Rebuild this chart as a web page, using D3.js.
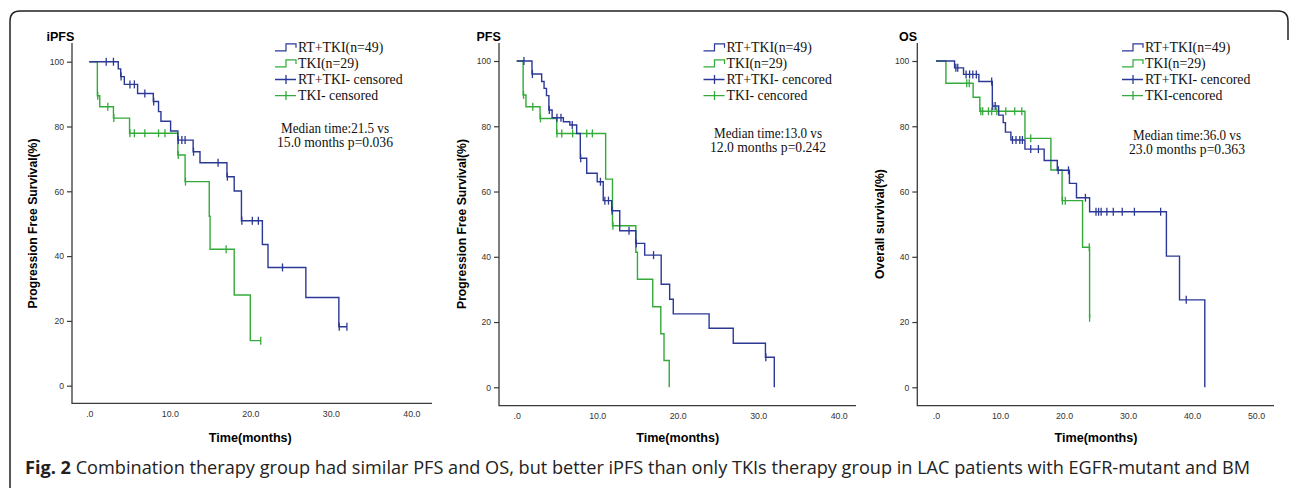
<!DOCTYPE html>
<html lang="en">

<head>
    <meta charset="UTF-8">
    <title>Fig. 2 Kaplan-Meier curves</title>
    <script src="https://d3js.org/d3.v7.min.js"></script>
    <style>
        body { margin: 0; background: #fff; }
    </style>
</head>

<body>
    <div class="chart"></div>

    <script>
        // ---- data (time in months, survival in %) ----
        const yTicks = [0, 20, 40, 60, 80, 100];
        const xTicks40 = [0, 10, 20, 30, 40];
        const xTicks50 = [0, 10, 20, 30, 40, 50];

        // iPFS
        const ipfsRtTimes = [3.6, 3.9, 4.35, 6.0, 7.95, 8.6, 8.9, 10.1, 11.0, 12.9, 13.75, 17.1, 18.0, 18.9, 21.5, 22.2, 26.9, 31.0];
        const ipfsRtSurv = [97.8, 95.4, 93.0, 90.2, 87.7, 84.6, 81.6, 78.6, 75.8, 72.2, 68.8, 64.5, 60.1, 50.9, 43.6, 36.5, 27.2, 18.2];
        const ipfsRtCens = [2.1, 3.0, 3.95, 5.05, 5.6, 6.9, 8.0, 11.05, 11.5, 11.9, 12.95, 16.0, 17.15, 18.95, 20.25, 21.0, 24.0, 31.05, 32.0];
        const ipfsTkiTimes = [1.0, 1.3, 3.0, 5.0, 11.0, 11.9, 14.9, 15.0, 18.0, 20.0];
        const ipfsTkiSurv = [89.5, 86.1, 82.6, 77.9, 71.2, 63.0, 52.3, 42.1, 28.0, 13.9];
        const ipfsTkiCens = [1.05, 2.3, 3.05, 5.05, 5.6, 6.9, 8.6, 9.4, 11.05, 11.95, 17.0, 21.3];

        // PFS
        const pfsRtTimes = [1.9, 3.1, 3.4, 3.7, 4.0, 4.4, 5.8, 6.6, 7.45, 7.9, 8.7, 10.0, 10.75, 11.8, 12.8, 14.8, 15.9, 17.95, 19.0, 19.45, 23.9, 26.9, 30.9, 32.0];
        const pfsRtSurv = [96.0, 93.7, 91.6, 89.4, 85.0, 82.6, 81.4, 80.4, 77.8, 70.2, 65.6, 63.0, 57.2, 54.1, 48.0, 44.1, 40.5, 31.6, 27.0, 22.5, 18.1, 13.5, 9.2, 0];
        const pfsRtCens = [0.9, 1.95, 4.05, 5.0, 5.5, 6.9, 7.95, 10.4, 10.95, 11.4, 11.85, 13.95, 14.85, 17.0, 30.95];
        const pfsTkiTimes = [0.8, 1.15, 2.9, 4.97, 11.05, 11.9, 14.8, 15.0, 16.9, 17.9, 18.3, 18.95];
        const pfsTkiSurv = [89.6, 86.0, 82.4, 77.8, 63.8, 49.5, 41.4, 33.1, 24.7, 16.4, 8.2, 0];
        const pfsTkiCens = [0.85, 2.0, 2.95, 5.0, 5.6, 6.95, 8.7, 9.4, 11.95];

        // OS
        const osRtTimes = [2.9, 4.3, 6.7, 8.8, 9.8, 10.5, 10.85, 11.7, 13.9, 16.9, 18.95, 20.85, 21.95, 24.0, 36.0, 38.05, 42.0];
        const osRtSurv = [97.9, 95.9, 93.7, 86.2, 83.4, 81.1, 78.2, 75.8, 73.0, 69.5, 66.5, 62.5, 58.1, 53.8, 40.2, 26.8, 0];
        const osRtCens = [3.1, 3.4, 4.7, 5.25, 5.75, 6.3, 8.7, 8.85, 9.25, 11.95, 12.5, 13.1, 13.5, 14.8, 16.0, 19.1, 20.7, 23.35, 25.0, 25.4, 25.8, 26.7, 27.7, 29.1, 31.0, 35.1, 39.1];
        const osTkiTimes = [1.55, 5.8, 6.85, 13.9, 17.95, 19.7, 22.9, 24.0];
        const osTkiSurv = [93.2, 88.9, 84.6, 76.3, 66.6, 57.2, 42.9, 21.3];
        const osTkiCens = [4.8, 5.2, 7.0, 7.3, 8.2, 8.7, 9.5, 10.9, 12.3, 13.4, 14.8, 19.75, 20.2, 23.95, 24.0];

        const legendP1 = ["RT+TKI(n=49)", "TKI(n=29)", "RT+TKI- censored", "TKI- censored"];
        const legendP2 = ["RT+TKI(n=49)", "TKI(n=29)", "RT+TKI- cencored", "TKI- cencored"];
        const legendP3 = ["RT+TKI(n=49)", "TKI(n=29)", "RT+TKI- cencored", "TKI-cencored"];

        const medianP1 = ["Median time:21.5 vs", "15.0 months p=0.036"];
        const medianP2 = ["Median time:13.0 vs", "12.0 months p=0.242"];
        const medianP3 = ["Median time:36.0 vs", "23.0 months p=0.363"];

        const captionBold = "Fig. 2";
        const captionText = " Combination therapy group had similar PFS and OS, but better iPFS than only TKIs therapy group in LAC patients with EGFR-mutant and BM";

        // ---- styling ----
        const blue = "#2b3896";
        const green = "#34aa3a";
        const axisColor = "#3a3a3a";

        const w = 1290;
        const h = 488;

        const svg = d3.select(".chart")
            .append("svg")
            .attr("width", w)
            .attr("height", h)
            .style("display", "block");

        // outer frame (rounded top corners, open at the bottom)
        svg.append("path")
            .attr("d", "M10,492 V21 Q10,11 20,11 H1278 Q1288,11 1288,21 V40")
            .attr("fill", "none")
            .attr("stroke", "#222")
            .attr("stroke-width", 1.5);

        // panel layout (pixel positions)
        const panels = [
            {
                title: "iPFS", yLabel: "Progression Free Survival(%)", xTicks: xTicks40,
                axisX: 72, right: 432, axisY: 403.3, top: 43, x0: 89.3, x1: 411.3, y0: 385.7, y100: 61.7,
                titleX: 46.5, legendX: 275, legendY: 47.3, legend: legendP1,
                median: medianP1, medianX: 335, medianY: 133, yLabelX: 37, yLabelY: 223.5,
                groups: [
                    { times: ipfsRtTimes, surv: ipfsRtSurv, cens: ipfsRtCens, color: blue },
                    { times: ipfsTkiTimes, surv: ipfsTkiSurv, cens: ipfsTkiCens, color: green }
                ]
            },
            {
                title: "PFS", yLabel: "Progression Free Survival(%)", xTicks: xTicks40,
                axisX: 499, right: 856, axisY: 405.7, top: 43, x0: 516.7, x1: 838.7, y0: 387.3, y100: 61,
                titleX: 476.5, legendX: 703.5, legendY: 47.3, legend: legendP2,
                median: medianP2, medianX: 768, medianY: 138, yLabelX: 466, yLabelY: 224,
                groups: [
                    { times: pfsRtTimes, surv: pfsRtSurv, cens: pfsRtCens, color: blue },
                    { times: pfsTkiTimes, surv: pfsTkiSurv, cens: pfsTkiCens, color: green }
                ]
            },
            {
                title: "OS", yLabel: "Overall survival(%)", xTicks: xTicks50,
                axisX: 917.3, right: 1274, axisY: 405.7, top: 43, x0: 936, x1: 1256, y0: 387.3, y100: 61,
                titleX: 899, legendX: 1122, legendY: 47.3, legend: legendP3,
                median: medianP3, medianX: 1187, medianY: 139.5, yLabelX: 884, yLabelY: 224,
                groups: [
                    { times: osRtTimes, surv: osRtSurv, cens: osRtCens, color: blue },
                    { times: osTkiTimes, surv: osTkiSurv, cens: osTkiCens, color: green }
                ]
            }
        ];

        // survival value at time t (after any drop at t)
        function survAt(g, t) {
            let s = 100;
            g.times.forEach((tt, i) => { if (tt <= t) s = g.surv[i]; });
            return s;
        }

        panels.forEach(p => {
            const xMax = p.xTicks[p.xTicks.length - 1];
            const x = d3.scaleLinear().domain([0, xMax]).range([p.x0, p.x1]);
            const y = d3.scaleLinear().domain([0, 100]).range([p.y0, p.y100]);
            const g = svg.append("g");

            // y axis
            const yAxis = g.append("g")
                .attr("transform", `translate(${p.axisX},0)`)
                .call(d3.axisLeft(y).tickValues(yTicks).tickSize(5).tickPadding(3).tickFormat(d => d));
            yAxis.select(".domain").remove();
            yAxis.selectAll("line").attr("stroke", axisColor).attr("stroke-width", 1.2);
            yAxis.selectAll("text")
                .attr("fill", "#333")
                .style("font-family", "'Liberation Sans', Arial, sans-serif")
                .style("font-size", "8.6px");

            // x axis
            const xAxis = g.append("g")
                .attr("transform", `translate(0,${p.axisY})`)
                .call(d3.axisBottom(x).tickValues(p.xTicks).tickSize(0).tickPadding(7)
                    .tickFormat(d => d === 0 ? ".0" : d.toFixed(1)));
            xAxis.select(".domain").remove();
            xAxis.selectAll("text")
                .attr("fill", "#333")
                .style("font-family", "'Liberation Sans', Arial, sans-serif")
                .style("font-size", "8.8px");

            // axis lines
            g.append("path")
                .attr("d", `M${p.axisX},${p.top} V${p.axisY} H${p.right}`)
                .attr("fill", "none")
                .attr("stroke", axisColor)
                .attr("stroke-width", 1.3);

            // titles
            g.append("text")
                .attr("x", p.titleX)
                .attr("y", 40.5)
                .style("font-family", "'Liberation Sans', Arial, sans-serif")
                .style("font-weight", "bold")
                .style("font-size", "12.5px")
                .text(p.title);

            g.append("text")
                .attr("transform", `translate(${p.yLabelX},${p.yLabelY}) rotate(-90)`)
                .attr("text-anchor", "middle")
                .style("font-family", "'Liberation Sans', Arial, sans-serif")
                .style("font-weight", "bold")
                .style("font-size", "12.2px")
                .text(p.yLabel);

            g.append("text")
                .attr("x", x(xMax / 2))
                .attr("y", 441.5)
                .attr("text-anchor", "middle")
                .style("font-family", "'Liberation Sans', Arial, sans-serif")
                .style("font-weight", "bold")
                .style("font-size", "12.6px")
                .text("Time(months)");

            // step curves
            const line = d3.line()
                .x(d => x(d[0]))
                .y(d => y(d[1]))
                .curve(d3.curveStepAfter);

            p.groups.slice().reverse().forEach(grp => {
                const pts = [[0, 100]].concat(grp.times.map((t, i) => [t, grp.surv[i]]));
                const end = Math.max(d3.max(grp.times), d3.max(grp.cens));
                pts.push([end, pts[pts.length - 1][1]]);
                g.append("path")
                    .attr("d", line(pts))
                    .attr("fill", "none")
                    .attr("stroke", grp.color)
                    .attr("stroke-width", 1.4);
            });

            // censor ticks
            p.groups.forEach(grp => {
                g.selectAll(null)
                    .data(grp.cens)
                    .join("line")
                    .attr("x1", d => x(d))
                    .attr("x2", d => x(d))
                    .attr("y1", d => y(survAt(grp, d)) - 4)
                    .attr("y2", d => y(survAt(grp, d)) + 4)
                    .attr("stroke", grp.color)
                    .attr("stroke-width", 1.3);
            });

            // legend
            const lg = g.append("g").attr("transform", `translate(${p.legendX},${p.legendY})`);
            p.legend.forEach((label, i) => {
                const color = i % 2 === 0 ? blue : green;
                const row = lg.append("g").attr("transform", `translate(0,${i * 16.1})`);
                if (i < 2) {
                    row.append("path")
                        .attr("d", "M0,3.5 H11 V-3.5 H21 V0.5")
                        .attr("fill", "none")
                        .attr("stroke", color)
                        .attr("stroke-width", 1.2);
                } else {
                    row.append("path")
                        .attr("d", "M0,0 H21 M11,-4.5 V4.5")
                        .attr("fill", "none")
                        .attr("stroke", color)
                        .attr("stroke-width", 1.3);
                }
                row.append("text")
                    .attr("x", 23)
                    .attr("y", 4.6)
                    .style("font-family", "'Liberation Serif', 'Times New Roman', serif")
                    .style("font-size", "13.8px")
                    .attr("fill", "#111")
                    .text(label);
            });

            // median annotation
            p.median.forEach((txt, i) => {
                g.append("text")
                    .attr("x", p.medianX)
                    .attr("y", p.medianY + i * 14.2)
                    .attr("text-anchor", "middle")
                    .attr("textLength", i === 0 ? 108 : 116)
                    .attr("lengthAdjust", "spacingAndGlyphs")
                    .style("font-family", "'Liberation Serif', 'Times New Roman', serif")
                    .style("font-size", "14px")
                    .attr("fill", "#111")
                    .text(txt);
            });
        });

        // caption
        const cap = svg.append("text")
            .attr("x", 25)
            .attr("y", 474)
            .attr("textLength", 1225)
            .attr("lengthAdjust", "spacingAndGlyphs")
            .style("font-family", "'Open Sans', 'Noto Sans', sans-serif")
            .style("font-size", "17.5px")
            .attr("fill", "#222");
        cap.append("tspan").style("font-weight", "bold").text(captionBold);
        cap.append("tspan").text(captionText);
    </script>
</body>

</html>
